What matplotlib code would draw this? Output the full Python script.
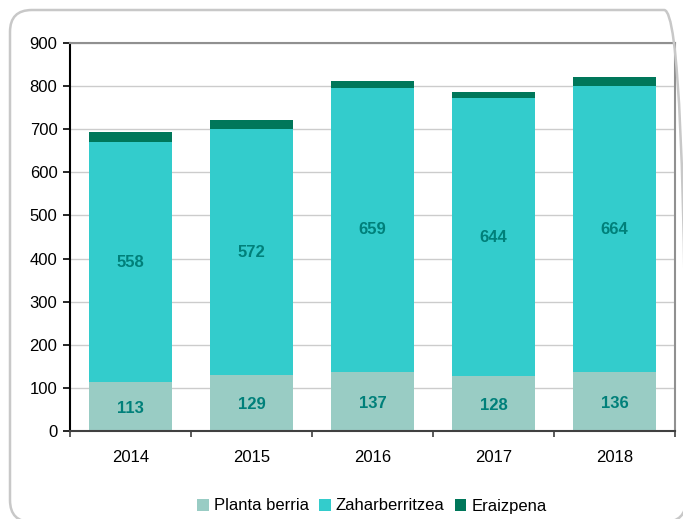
import numpy as np
import matplotlib.pyplot as plt
from matplotlib.patches import FancyBboxPatch

years = ['2014', '2015', '2016', '2017', '2018']
planta_berria = [113, 129, 137, 128, 136]
zaharberritzea = [558, 572, 659, 644, 664]
eraizpena = [22, 20, 16, 15, 20]

series_names = ['Planta berria', 'Zaharberritzea', 'Eraizpena']
colors = ['#99CCC4', '#33CCCC', '#00775A']
label_color = '#00807A'

plt.rcParams['font.family'] = ['Liberation Sans', 'DejaVu Sans']

W, H = 683, 519
fig = plt.figure(figsize=(W / 100, H / 100), dpi=100)

# rounded outer frame (runs off the right and bottom edges)
frame = FancyBboxPatch((10 / W, -3 / H), 676 / W, 512 / H,
                       boxstyle='round,pad=0,rounding_size=0.032',
                       transform=fig.transFigure, facecolor='none',
                       edgecolor='#C8C8C8', linewidth=1.8, mutation_aspect=W / H)
fig.patches.append(frame)

ax = fig.add_axes([70 / W, (H - 431) / H, 605 / W, 388 / H])

x = np.arange(len(years))
width = 0.68
b1 = ax.bar(x, planta_berria, width, color=colors[0], label=series_names[0], zorder=2)
b2 = ax.bar(x, zaharberritzea, width, bottom=planta_berria, color=colors[1],
            label=series_names[1], zorder=2)
bottom3 = np.array(planta_berria) + np.array(zaharberritzea)
b3 = ax.bar(x, eraizpena, width, bottom=bottom3, color=colors[2],
            label=series_names[2], zorder=2)

for i in range(len(years)):
    ax.text(x[i], planta_berria[i] / 2 - 4, str(planta_berria[i]), ha='center', va='center',
            color=label_color, fontsize=12, fontweight='bold', zorder=3)
    ax.text(x[i], planta_berria[i] + zaharberritzea[i] / 2, str(zaharberritzea[i]),
            ha='center', va='center', color=label_color, fontsize=12,
            fontweight='bold', zorder=3)

ax.set_ylim(0, 900)
ax.set_yticks(np.arange(0, 901, 100))
ax.set_xlim(-0.5, len(years) - 0.5)
ax.set_xticks(x)
ax.set_xticklabels(years)
ax.set_xticks(np.arange(-0.5, len(years), 1), minor=True)
ax.tick_params(axis='x', which='major', length=0, pad=14, labelsize=12)
ax.tick_params(axis='x', which='minor', length=4, width=1.2, color='#404040', direction='out')
ax.tick_params(axis='y', length=5, width=1.2, direction='out', labelsize=12, pad=4)

ax.yaxis.grid(True, color='#CCCCCC', linewidth=1, zorder=0)
ax.set_axisbelow(True)

ax.spines['left'].set_color('#000000')
ax.spines['left'].set_linewidth(1.5)
ax.spines['bottom'].set_color('#404040')
ax.spines['bottom'].set_linewidth(1.5)
ax.spines['top'].set_color('#909090')
ax.spines['top'].set_linewidth(1.5)
ax.spines['right'].set_color('#909090')
ax.spines['right'].set_linewidth(1.5)

fig.legend(handles=[b1, b2, b3], labels=series_names, loc='center',
           bbox_to_anchor=(372 / W, (H - 506) / H), ncol=3, frameon=False,
           fontsize=12, handlelength=0.7, handleheight=0.7, handletextpad=0.3,
           columnspacing=0.6)

fig.savefig('out.png', dpi=100)
